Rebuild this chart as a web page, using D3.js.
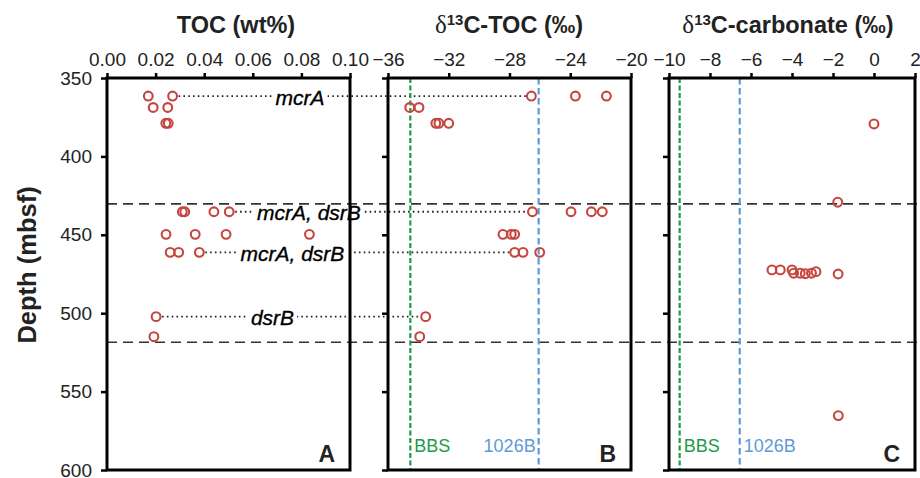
<!DOCTYPE html>
<html>
<head>
<meta charset="utf-8">
<script src="https://cdn.jsdelivr.net/npm/d3@7"></script>
<style>
  body { margin: 0; background: #fff; }
  svg { font-family: "Liberation Sans", Arial, Helvetica, sans-serif; }
</style>
</head>
<body>
<svg width="920" height="478"></svg>
<script>
// depth ticks shared by all panels
const depthTicks = [350, 400, 450, 500, 550, 600];
const boundaryDepths = [430.3, 518.5];

// panel A - TOC (wt%)
const tocTicks = [0, 0.02, 0.04, 0.06, 0.08, 0.10];
const tocDepth = [361.5, 361.5, 368.8, 368.8, 378.9, 378.9,
  435.3, 435.3, 435.3, 435.3, 449.7, 449.7, 449.7, 449.7,
  461.2, 461.2, 461.2, 502.2, 515];
const tocValue = [0.017, 0.027, 0.019, 0.025, 0.0242, 0.0252,
  0.031, 0.032, 0.044, 0.0503, 0.0243, 0.0363, 0.049, 0.0833,
  0.026, 0.0295, 0.038, 0.0202, 0.0193];

// panel B - d13C-TOC
const orgTicks = [-36, -32, -28, -24, -20];
const orgDepth = [361.5, 361.5, 361.5, 368.8, 368.8, 378.9, 378.9, 378.9,
  435.3, 435.3, 435.3, 435.3, 449.7, 449.7, 449.7,
  461.2, 461.2, 461.2, 502.2, 515];
const orgValue = [-26.56, -23.66, -21.62, -34.57, -33.96, -32.85, -32.65, -32.0,
  -26.49, -23.95, -22.61, -21.89, -28.43, -27.88, -27.66,
  -27.66, -27.11, -26.01, -33.52, -33.91];
const orgRefs = [{ name: "BBS", value: -34.53 }, { name: "1026B", value: -26.08 }];

// panel C - d13C-carbonate
const carbTicks = [-10, -8, -6, -4, -2, 0, 2];
const carbDepth = [379.3, 429.2, 472.4, 472.4, 472.4, 474.5, 474.5, 474.8, 474.5, 473.5, 475, 565.3];
const carbValue = [0.0, -1.77, -4.98, -4.57, -4.0, -3.92, -3.6, -3.35, -3.05, -2.83, -1.75, -1.74];
const carbRefs = [{ name: "BBS", value: -9.48 }, { name: "1026B", value: -6.55 }];

// gene annotations: depth, TOC end, d13C-TOC end, label anchor (TOC units)
const genes = [
  { label: "mcrA", depth: 361.5, from: 0.027, to: -26.56, at: 0.0794 },
  { label: "mcrA, dsrB", depth: 435.3, from: 0.0503, to: -26.49, at: 0.0831 },
  { label: "mcrA, dsrB", depth: 461.2, from: 0.038, to: -27.66, at: 0.0763 },
  { label: "dsrB", depth: 502.2, from: 0.0202, to: -33.52, at: 0.0681 }
];

const svg = d3.select("svg");
const RED = "#c4463f", GREEN = "#1e9a4a", BLUE = "#5e9bd6";

const y = d3.scaleLinear().domain([350, 600]).range([78, 470]);

const panels = [
  { key: "A", x: d3.scaleLinear().domain([0, 0.1]).range([107, 350]), ticks: tocTicks,
    fmt: d3.format(".2f"), depth: tocDepth, value: tocValue, refs: [], labels: true },
  { key: "B", x: d3.scaleLinear().domain([-36, -20]).range([388, 631]), ticks: orgTicks,
    fmt: d3.format("d"), depth: orgDepth, value: orgValue, refs: orgRefs },
  { key: "C", x: d3.scaleLinear().domain([-10, 2]).range([669, 915]), ticks: carbTicks,
    fmt: d3.format("d"), depth: carbDepth, value: carbValue, refs: carbRefs }
];
const xA = panels[0].x, xB = panels[1].x;

// horizontal boundary lines
svg.append("g").selectAll("line").data(boundaryDepths).join("line")
  .attr("x1", xA.range()[0]).attr("x2", 920)
  .attr("y1", d => y(d)).attr("y2", d => y(d))
  .attr("stroke", "#333").attr("stroke-width", 1.6).attr("stroke-dasharray", "10,6");

// dotted gene lines
svg.append("g").selectAll("line").data(genes).join("line")
  .attr("x1", d => xA(d.from) + 6).attr("x2", d => xB(d.to) - 5)
  .attr("y1", d => y(d.depth)).attr("y2", d => y(d.depth))
  .attr("stroke", "#222").attr("stroke-width", 1.8)
  .attr("stroke-dasharray", "1.6,3.2");

const geneText = svg.append("g").selectAll("text").data(genes).join("text")
  .attr("x", d => xA(d.at)).attr("y", d => y(d.depth) + 1)
  .attr("text-anchor", "middle").attr("dominant-baseline", "central")
  .attr("font-size", 21).attr("font-style", "italic").attr("fill", "#000")
  .attr("stroke", "#000").attr("stroke-width", 0.35)
  .text(d => d.label);

// white gap behind labels (on the dotted line only)
const gaps = svg.insert("g", "g:last-of-type");
geneText.each(function(d) {
  const b = this.getBBox();
  gaps.append("rect").attr("x", b.x - 3).attr("width", b.width + 6)
    .attr("y", y(d.depth) - 3).attr("height", 6).attr("fill", "#fff");
});

panels.forEach(p => {
  const g = svg.append("g");
  const [x0, x1] = p.x.range();

  // reference lines
  p.refs.forEach((r, i) => {
    const col = i === 0 ? GREEN : BLUE;
    g.append("line").attr("x1", p.x(r.value)).attr("x2", p.x(r.value))
      .attr("y1", y(350)).attr("y2", y(600))
      .attr("stroke", col).attr("stroke-width", 2.2)
      .attr("stroke-dasharray", i === 0 ? "5,2.5" : "6.5,3.5");
    const txt = g.append("text").attr("y", 452).attr("font-size", 18).attr("fill", col).text(r.name);
    if (p.key === "B" && i === 1) txt.attr("x", p.x(r.value) - 3).attr("text-anchor", "end");
    else txt.attr("x", p.x(r.value) + 4);
  });

  // frame
  g.append("rect").attr("x", x0).attr("y", y(350)).attr("width", x1 - x0).attr("height", y(600) - y(350))
    .attr("fill", "none").attr("stroke", "#000").attr("stroke-width", 3);

  // top axis
  const ax = g.append("g").attr("transform", `translate(0,${y(350)})`)
    .call(d3.axisTop(p.x).tickValues(p.ticks).tickFormat(p.fmt).tickSize(5).tickPadding(7));
  ax.select(".domain").remove();
  ax.selectAll("line").attr("stroke-width", 2.5);
  ax.selectAll("text").attr("font-size", 19).attr("fill", "#222").attr("font-family", null);

  // left axis
  const ay = g.append("g").attr("transform", `translate(${x0},0)`)
    .call(d3.axisLeft(y).tickValues(depthTicks).tickSize(6).tickPadding(9)
      .tickFormat(p.labels ? d3.format("d") : ""));
  ay.select(".domain").remove();
  ay.selectAll("line").attr("stroke-width", 2.5);
  ay.selectAll("text").attr("font-size", 19).attr("fill", "#222").attr("font-family", null);

  // points
  g.append("g").selectAll("circle").data(p.value).join("circle")
    .attr("cx", d => p.x(d)).attr("cy", (d, i) => y(p.depth[i]))
    .attr("r", 4.4).attr("fill", "none").attr("stroke", RED).attr("stroke-width", 2.1);

  // panel letter
  g.append("text").attr("x", x1 - 15).attr("y", 462).attr("text-anchor", "end")
    .attr("font-size", 23).attr("font-weight", "bold").attr("fill", "#222").text(p.key);
});

geneText.raise();

// titles
svg.append("text").attr("x", 236).attr("y", 33).attr("text-anchor", "middle")
  .attr("font-size", 23.5).attr("font-weight", "bold").attr("fill", "#222").text("TOC (wt%)");

function isoTitle(cx, rest) {
  const t = svg.append("text").attr("x", cx).attr("y", 33).attr("text-anchor", "middle")
    .attr("font-size", 23.5).attr("font-weight", "bold").attr("fill", "#222");
  t.append("tspan").attr("font-family", "'Liberation Serif', serif").attr("font-weight", "normal")
    .attr("font-size", 25).text("δ");
  t.append("tspan").attr("font-size", 15).attr("dy", -8).text("13");
  t.append("tspan").attr("dy", 8).text(rest);
}
isoTitle(509, "C-TOC (‰)");
isoTitle(788, "C-carbonate (‰)");

// depth label
svg.append("text").attr("transform", "translate(36,265) rotate(-90)")
  .attr("text-anchor", "middle").attr("font-size", 25.5).attr("font-weight", "bold")
  .attr("fill", "#222").text("Depth (mbsf)");
</script>
</body>
</html>
